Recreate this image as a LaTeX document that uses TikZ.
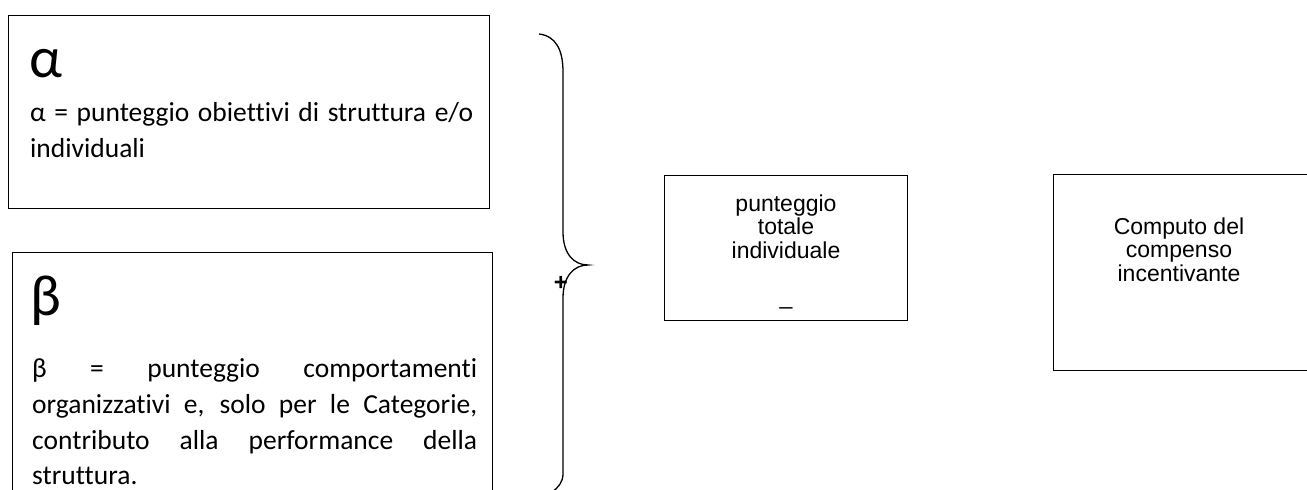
\documentclass[tikz,border=0pt]{standalone}
\usepackage{fontspec}
\setmainfont{Carlito}[Ligatures={NoCommon}]
\newfontfamily\arialf{Liberation Sans}
\begin{document}
\begin{tikzpicture}[x=1pt,y=-1pt,
  box/.style={draw, line width=1.4pt, inner sep=0pt, anchor=north west},
  headtext/.style={anchor=base west, inner sep=0pt, font=\fontsize{58}{58}\selectfont},
  bodytext/.style={anchor=base west, inner sep=0pt, font=\fontsize{27.5}{36}\selectfont},
  sanstext/.style={anchor=base, inner sep=0pt, font=\arialf\fontsize{23}{23.5}\selectfont},
  brace/.style={line width=1.3pt}]
\useasboundingbox (0,0) rectangle (1307,490);

% alpha box
\node[box, minimum width=481pt, minimum height=193pt] (abox) at (8,15) {};
\node[headtext] (ahead) at (29,77) {α};
\node[bodytext] (aline1) at (30,121) {\makebox[443pt][s]{α = punteggio obiettivi di struttura e/o}};
\node[bodytext] (aline2) at (30,157) {individuali};

% beta box (continues past the bottom edge)
\node[box, minimum width=480pt, minimum height=260pt] (bbox) at (12,252) {};
\node[headtext] (bhead) at (30,315) {β};
\node[bodytext] (bline1) at (32,377) {\makebox[445pt][s]{β = punteggio comportamenti}};
\node[bodytext] (bline2) at (32,413) {\makebox[445pt][s]{organizzativi e, solo per le Categorie,}};
\node[bodytext] (bline3) at (32,449) {\makebox[445pt][s]{contributo alla performance della}};
\node[bodytext] (bline4) at (32,484.5) {struttura.};

% brace
\coordinate (btop) at (539,34);
\coordinate (btip) at (588,265);
\coordinate (bbot) at (552,492);
\draw[brace] (btop) .. controls (556,36) and (563,50) .. (563,72)
  -- (563,232) .. controls (563,254) and (574,265) .. (btip)
  .. controls (574,265) and (563,276) .. (563,298)
  -- (563,474) .. controls (563,482) and (558,488) .. (bbot);
\node[inner sep=0pt, font=\arialf\fontsize{24}{24}\selectfont\bfseries] (plus) at (561,283) {+};

% total score box
\node[box, minimum width=243pt, minimum height=145pt] (tbox) at (664,175) {};
\node[sanstext] (t1) at (786,211) {punteggio};
\node[sanstext] (t2) at (786,234.5) {totale};
\node[sanstext] (t3) at (786,258) {individuale};
\node[sanstext] (t4) at (786,304) {\_};

% compensation box
\node[box, minimum width=260pt, minimum height=196pt] (cbox) at (1053,174) {};
\node[sanstext] (c1) at (1179,234) {Computo del};
\node[sanstext] (c2) at (1179,257.5) {compenso};
\node[sanstext] (c3) at (1179,281) {incentivante};
\end{tikzpicture}
\end{document}
